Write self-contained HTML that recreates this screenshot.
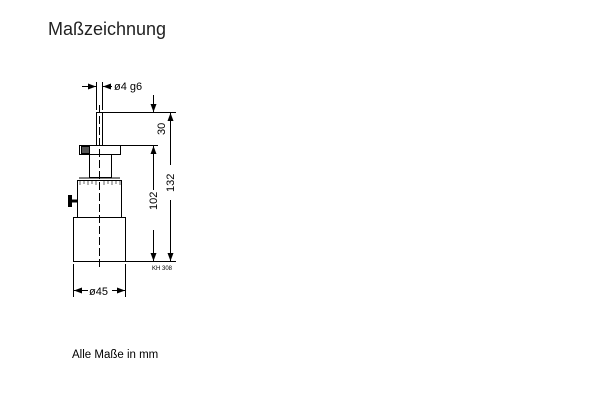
<!DOCTYPE html>
<html><head><meta charset="utf-8"><style>
body{margin:0;background:#fff;width:600px;height:400px;overflow:hidden;position:relative;font-family:"Liberation Sans",sans-serif}
</style></head><body>
<svg width="600" height="400" style="position:absolute;left:0;top:0" font-family="Liberation Sans, sans-serif">
<defs><marker id="a" markerWidth="8" markerHeight="6" refX="8" refY="3" orient="auto" markerUnits="userSpaceOnUse"><path d="M0,0L8,3L0,6z" fill="#000"/></marker></defs>
<text x="48" y="35" font-size="18" fill="#222">Maßzeichnung</text>
<text x="72" y="358" font-size="11.5" fill="#000">Alle Maße in mm</text>
<g stroke="#000" stroke-width="1" fill="none">
<rect x="96.5" y="112.5" width="6" height="33"/>
<rect x="79.5" y="145.5" width="41" height="9"/>
<rect x="81.5" y="146.5" width="8" height="7" fill="#555"/>
<rect x="89.5" y="154.5" width="22" height="23"/>
<rect x="77.5" y="180.5" width="44" height="37"/>
<line x1="79" y1="178" x2="120" y2="178"/>
<rect x="73.5" y="217.5" width="52" height="44"/>
<rect x="68.5" y="195.5" width="3" height="11" fill="#000"/>
<line x1="71" y1="201" x2="77" y2="201" stroke-width="3"/>
<line x1="99.5" y1="105" x2="99.5" y2="268" stroke-dasharray="8,3"/>
<line x1="96.5" y1="82" x2="96.5" y2="110"/>
<line x1="102.5" y1="82" x2="102.5" y2="110"/>
<line x1="82" y1="86.5" x2="96" y2="86.5" marker-end="url(#a)"/>
<line x1="112" y1="86.5" x2="103" y2="86.5" marker-end="url(#a)"/>
<line x1="103" y1="112.5" x2="176" y2="112.5"/>
<line x1="121" y1="145.5" x2="158" y2="145.5"/>
<line x1="126" y1="261.5" x2="176" y2="261.5"/>
<line x1="153.5" y1="95" x2="153.5" y2="112" marker-end="url(#a)"/>
<line x1="153.5" y1="190" x2="153.5" y2="146" marker-end="url(#a)"/>
<line x1="153.5" y1="230" x2="153.5" y2="261" marker-end="url(#a)"/>
<line x1="170.5" y1="165" x2="170.5" y2="113" marker-end="url(#a)"/>
<line x1="170.5" y1="200" x2="170.5" y2="261" marker-end="url(#a)"/>
<line x1="73.5" y1="264" x2="73.5" y2="297"/>
<line x1="125.5" y1="264" x2="125.5" y2="297"/>
<line x1="88" y1="290.5" x2="74" y2="290.5" marker-end="url(#a)"/>
<line x1="112" y1="290.5" x2="125" y2="290.5" marker-end="url(#a)"/>
</g>
<g stroke="#000" stroke-width="0.6">
<line x1="80" y1="181" x2="80" y2="185"/><line x1="84" y1="181" x2="84" y2="184"/><line x1="88" y1="181" x2="88" y2="185"/><line x1="92" y1="181" x2="92" y2="184"/><line x1="96" y1="181" x2="96" y2="185"/><line x1="104" y1="181" x2="104" y2="185"/><line x1="108" y1="181" x2="108" y2="184"/><line x1="112" y1="181" x2="112" y2="185"/><line x1="116" y1="181" x2="116" y2="184"/><line x1="120" y1="181" x2="120" y2="185"/>
</g>
<text x="114" y="90" font-size="11" fill="#000">ø4 g6</text>
<text x="89" y="295" font-size="11" fill="#000">ø45</text>
<text x="152" y="270" font-size="6" fill="#000">KH 308</text>
<g font-size="11" fill="#000">
<text transform="translate(165,135) rotate(-90)">30</text>
<text transform="translate(157,210) rotate(-90)">102</text>
<text transform="translate(174,192) rotate(-90)">132</text>
</g>
</svg>
</body></html>
